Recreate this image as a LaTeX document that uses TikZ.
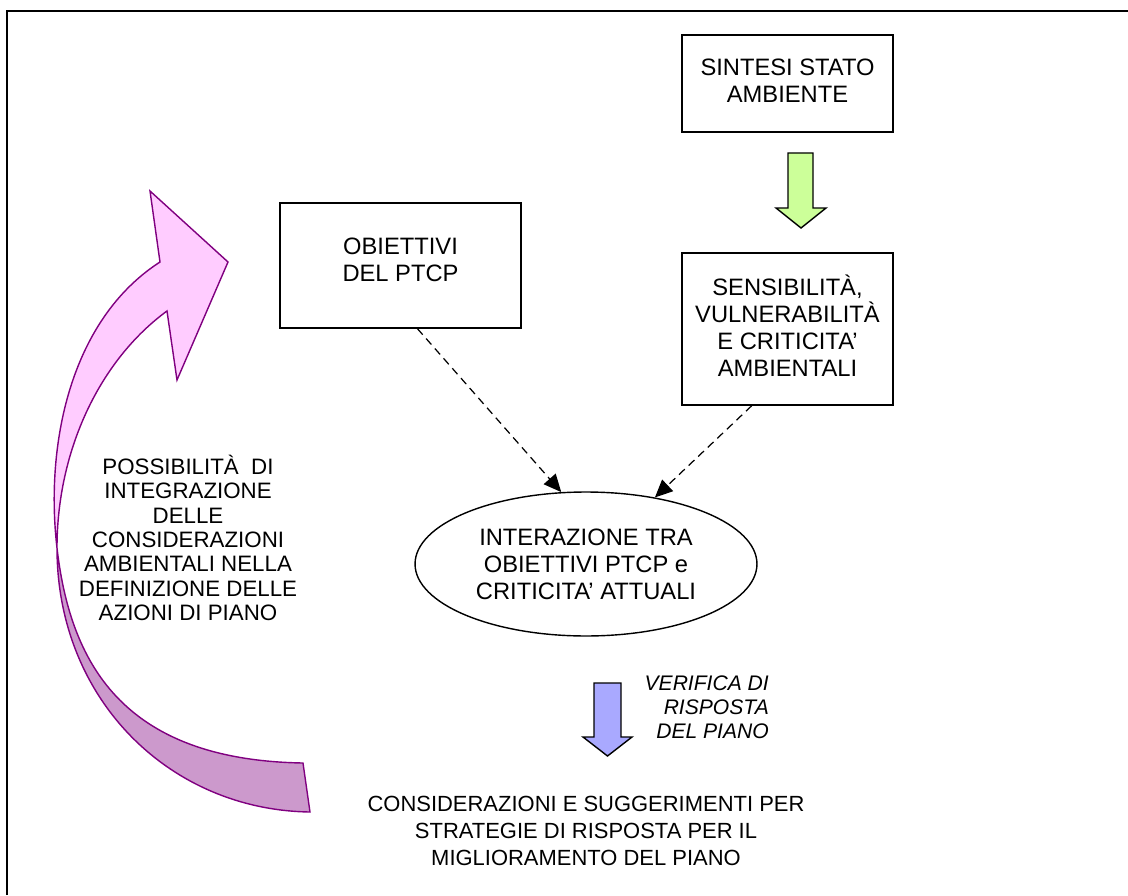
\documentclass[tikz,border=0pt]{standalone}
\usepackage{fontspec}
\setmainfont{Liberation Sans}
\usetikzlibrary{arrows.meta, shapes.geometric}

\definecolor{pinklight}{HTML}{FFCCFF}
\definecolor{pinkdark}{HTML}{CC99CC}
\definecolor{plumline}{HTML}{800080}
\definecolor{limefill}{HTML}{CCFF99}
\definecolor{lavfill}{HTML}{A9A9FF}

\tikzset{
	box/.style={draw, line width=0.8pt, align=center, inner sep=0pt, font=\fontsize{13.5}{15.3}\selectfont},
	link/.style={dashed, dash pattern=on 4.5pt off 3pt, line width=0.7pt, -{Triangle[length=10pt, width=9pt]}},
	blockarrow/.style={draw=black, line width=0.8pt, line join=miter},
	arrowskin/.style={draw=plumline, line width=0.8pt}
}

\begin{document}
\begin{tikzpicture}[x=0.02cm, y=-0.02cm]
	\useasboundingbox (0,0) rectangle (1128,895);
	\draw [line width=1.4pt] (7,895) -- (7,11) -- (1128,11);

	\node [box, minimum width=4.22cm, minimum height=1.94cm, text depth=3pt] (sintesi) at (787.5,83.5) {SINTESI STATO\\AMBIENTE};
	\node [box, minimum width=4.22cm, minimum height=3.04cm, text depth=4pt] (sens) at (787.5,329) {SENSIBILITÀ,\\VULNERABILITÀ\\E CRITICITA’\\AMBIENTALI};
	\node [box, minimum width=4.82cm, minimum height=2.5cm, text depth=7pt] (obj) at (400.5,265.5) {OBIETTIVI\\DEL PTCP};
	\node [box, ellipse, minimum width=6.84cm, minimum height=2.88cm] (inter) at (586,564) {INTERAZIONE TRA\\OBIETTIVI PTCP e\\CRITICITA’ ATTUALI};

	\draw [link] (obj.285.6) -- (inter.109);
	\draw [link] (sens.245) -- (inter.44);

	\draw [blockarrow, fill=limefill] (788,153) -- ++(25,0) -- ++(0,55) -- ++(13,0) -- (801,228) -- (776,208) -- ++(12,0) -- cycle;
	\draw [blockarrow, fill=lavfill] (594,683) -- ++(27,0) -- ++(0,54) -- ++(11,0) -- (607.5,756) -- (583,737) -- ++(11,0) -- cycle;

	\node [align=right, anchor=east, font=\fontsize{12}{13.8}\selectfont\itshape] (verifica) at (775,707) {VERIFICA DI\\RISPOSTA\\DEL PIANO};
	\node [align=center, font=\fontsize{12.5}{15.3}\selectfont] (consid) at (586,831) {CONSIDERAZIONI E SUGGERIMENTI PER\\STRATEGIE DI RISPOSTA PER IL\\MIGLIORAMENTO DEL PIANO};

	\coordinate (tip) at (228,262);
	\coordinate (X) at (57,548);
	\filldraw [arrowskin, fill=pinklight] (tip) -- (150,191) -- (160,262) .. controls (70,320) and (45,445) .. (X) .. controls (57,450) and (100,360) .. (167,311) -- (177,380) -- cycle;
	\filldraw [arrowskin, fill=pinkdark] (X) .. controls (70,660) and (120,760) .. (303,763) -- (310,812) .. controls (170,810) and (57,700) .. (X) -- cycle;

	\node [align=center, font=\fontsize{12.7}{13.9}\selectfont] (possib) at (188,538) {POSSIBILITÀ\ \ DI\\INTEGRAZIONE\\DELLE\\CONSIDERAZIONI\\AMBIENTALI NELLA\\DEFINIZIONE DELLE\\AZIONI DI PIANO};
\end{tikzpicture}
\end{document}
